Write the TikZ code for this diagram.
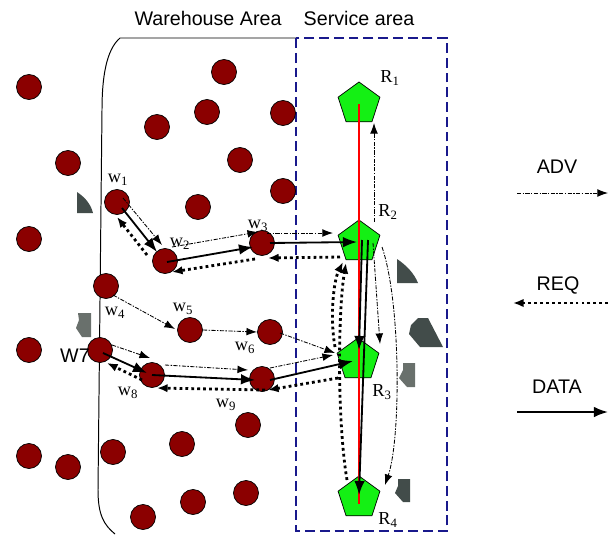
\documentclass[tikz,border=0pt]{standalone}
\usepackage{fontspec}
\setmainfont{Liberation Serif}
\setsansfont{Liberation Sans}
\usetikzlibrary{shapes.geometric,arrows.meta}
\definecolor{nodered}{RGB}{139,0,0}
\definecolor{relaygreen}{RGB}{20,240,20}
\definecolor{areablue}{RGB}{25,25,140}
\definecolor{rockgrey}{RGB}{66,76,74}
\definecolor{rocklight}{RGB}{105,112,108}
\tikzset{
	sensor/.style={circle,draw=black,line width=0.5pt,fill=nodered,minimum size=0.625cm,inner sep=0pt},
	relay/.style={regular polygon,regular polygon sides=5,draw=black,line width=0.5pt,fill=relaygreen,minimum size=1.1cm,inner sep=0pt},
	adv/.style={-{Latex[length=7.5pt,width=5.5pt]},line width=0.6pt,dash pattern=on 3pt off 1pt on 1pt off 1pt},
	req/.style={-{Latex[length=7.5pt,width=6pt]},line width=2pt,dash pattern=on 2pt off 2.2pt},
	data/.style={-{Latex[length=10pt,width=7.5pt]},line width=1.3pt},
	wlab/.style={font=\rmfamily\fontsize{13}{13}\selectfont,inner sep=0pt},
	head/.style={font=\sffamily\fontsize{14}{14}\selectfont,inner sep=0pt},
}
\begin{document}
\begin{tikzpicture}[x=0.025cm,y=-0.025cm]
	%%%%% START %%%%%
	\useasboundingbox (0,0) rectangle (612,534);
	\def\xl{296}
	\def\xr{447}
	\def\ytop{38}
	\def\ybot{531}
	
	\node[head] (whtitle) at (208,18) {Warehouse Area};
	\node[head] (sctitle) at (359,18) {Service area};
	
	% warehouse boundary
	\draw[line width=0.7pt] (\xl,\ytop) -- (120,\ytop) .. controls (106,50) and (102,78) .. (102,110) -- (98,490) .. controls (98,515) and (104,525) .. (115,534);
	% service area
	\draw[areablue,line width=1.4pt,dash pattern=on 7pt off 3.5pt] (\xl,\ytop) rectangle (\xr,\ybot);
	
	% obstacles
	\fill[rockgrey] (77,192) .. controls (86,198) and (91,205) .. (93,213) -- (77,213) -- cycle;
	\fill[rocklight] (78,313) -- (91,313) -- (91,337) -- (82,337) -- (76,328) -- (79,320) -- cycle;
	\fill[rockgrey] (397,259) .. controls (406,265) and (414,273) .. (418,283) -- (397,283) -- cycle;
	\fill[rockgrey] (418,318) -- (428,318) -- (443,347) -- (420,347) -- (409,334) -- (411,325) -- cycle;
	\fill[rocklight] (403,363) -- (415,363) -- (415,387) -- (407,387) -- (399,378) -- (403,370) -- cycle;
	\fill[rockgrey] (398,479) -- (410,479) -- (410,502) -- (403,502) -- (395,493) -- (398,486) -- cycle;
	
	% other sensors
	\foreach \x/\y [count=\i] in {29/87,224/72,207/112,283/113,157/127,68/163,240/160,283/191,198/207,29/239,29/350,248/425,182/444,113/452,29/456,68/467,246/493,193/502,143/517}
		\node[sensor] (c\i) at (\x,\y) {};
	
	% path sensors
	\node[sensor] (w1) at (117,202) {};
	\node[sensor] (w2) at (165,261) {};
	\node[sensor] (w3) at (262,243) {};
	\node[sensor] (w4) at (106,286) {};
	\node[sensor] (w5) at (190,330) {};
	\node[sensor] (w6) at (270,332) {};
	\node[sensor] (w7) at (100,350) {};
	\node[sensor] (w8) at (152,375) {};
	\node[sensor] (w9) at (262,379) {};
	
	% relays
	\node[relay] (R1) at (359,104) {};
	\node[relay] (R2) at (359,242) {};
	\node[relay] (R3) at (358,360) {};
	\node[relay] (R4) at (359,498) {};
	\draw[red,line width=1.2pt] (R1.center) -- ([yshift=-4]R4.center);
	
	% w1 - w2 - w3 - R2
	\draw[adv] ([shift={(6,-4)}]w1.center) -- ([shift={(-3,-16)}]w2.center);
	\draw[data] ([shift={(5,6)}]w1.center) -- ([shift={(-8,-9)}]w2.center);
	\draw[req] ([shift={(-18,-6)}]w2.center) -- ([shift={(0,15)}]w1.center);
	\draw[adv] ([shift={(7,-14)}]w2.center) -- ([shift={(-4,-11)}]w3.center);
	\draw[data] ([shift={(2,1)}]w2.center) -- ([shift={(-9,4)}]w3.center);
	\draw[req] ([shift={(-7,16)}]w3.center) -- ([shift={(7,11)}]w2.center);
	\draw[adv] ([shift={(5,-10)}]w3.center) -- ([shift={(-26,-9)}]R2.center);
	\draw[data] ([shift={(8,0)}]w3.center) -- ([shift={(-2,0)}]R2.center);
	\draw[req] ([shift={(-19,15)}]R2.center) -- ([shift={(6,15)}]w3.center);
	
	% w4 - w5 - w6 - R3
	\draw[adv] ([shift={(7,9)}]w4.center) -- ([shift={(-15,-1)}]w5.center);
	\draw[adv] ([shift={(13,0)}]w5.center) -- ([shift={(-13,0)}]w6.center);
	\draw[adv] ([shift={(10,1)}]w6.center) -- ([shift={(-23,-7)}]R3.center);
	
	% w7 - w8 - w9 - R3
	\draw[adv] ([shift={(12,-5)}]w7.center) -- ([shift={(-2,-17)}]w8.center);
	\draw[data] ([shift={(3,3)}]w7.center) -- ([shift={(-5,-2)}]w8.center);
	\draw[req] ([shift={(-10,5)}]w8.center) -- ([shift={(7,13)}]w7.center);
	\draw[adv] ([shift={(13,-10)}]w8.center) -- ([shift={(-14,-9)}]w9.center);
	\draw[data] (w8.center) -- ([shift={(-7,1)}]w9.center);
	\draw[req] ([shift={(3,11)}]w9.center) -- ([shift={(5,13)}]w8.center);
	\draw[adv] ([shift={(8,-11)}]w9.center) -- ([shift={(-25,-5)}]R3.center);
	\draw[data] ([shift={(8,1)}]w9.center) -- ([shift={(-5,1)}]R3.center);
	\draw[req] ([shift={(-20,18)}]R3.center) -- ([shift={(6,11)}]w9.center);
	
	% relay chain
	\draw[adv] ([shift={(15,-20)}]R2.center) -- ([shift={(15,19)}]R1.center);
	\draw[adv] ([shift={(14,1)}]R2.center) -- ([shift={(22,-16)}]R3.center);
	\draw[adv] ([shift={(23,5)}]R2.center) .. controls ([shift={(42,60)}]R2.center) and ([shift={(42,-60)}]R4.center) .. ([shift={(26,-13)}]R4.center);
	\draw[data] ([shift={(3,-2)}]R2.center) -- ([shift={(1,-10)}]R3.center);
	\draw[data] ([shift={(9,-2)}]R2.center) -- ([shift={(0,-3)}]R4.center);
	\draw[req] ([shift={(-23,-13)}]R3.center) .. controls ([shift={(-28,-40)}]R3.center) and ([shift={(-26,40)}]R2.center) .. ([shift={(-16,20)}]R2.center);
	\draw[req] ([shift={(-12,-18)}]R4.center) .. controls ([shift={(-22,-78)}]R4.center) and ([shift={(-21,68)}]R2.center) .. ([shift={(-13,21)}]R2.center);
	
	% labels
	\node[wlab] (lw1) at (118,180) {w\textsubscript{1}};
	\node[wlab] (lw2) at (180,244) {w\textsubscript{2}};
	\node[wlab] (lw3) at (258,226) {w\textsubscript{3}};
	\node[wlab] (lw4) at (115,313) {w\textsubscript{4}};
	\node[wlab] (lw5) at (183,309) {w\textsubscript{5}};
	\node[wlab] (lw6) at (245,348) {w\textsubscript{6}};
	\node[head] (lw7) at (75,356) {W7};
	\node[wlab] (lw8) at (128,393) {w\textsubscript{8}};
	\node[wlab] (lw9) at (226,405) {w\textsubscript{9}};
	\node[wlab] (lR1) at (390,78) {R\textsubscript{1}};
	\node[wlab] (lR2) at (388,212) {R\textsubscript{2}};
	\node[wlab] (lR3) at (382,392) {R\textsubscript{3}};
	\node[wlab] (lR4) at (388,520) {R\textsubscript{4}};
	
	% legend
	\node[head] (advlab) at (557,167) {ADV};
	\coordinate (advL) at (517,193);
	\coordinate (advR) at (608,193);
	\draw[adv] (advL) -- (advR);
	\node[head] (reqlab) at (558,285) {REQ};
	\coordinate (reqL) at (513,303);
	\coordinate (reqR) at (608,303);
	\draw[req] (reqR) -- (reqL);
	\node[head] (datalab) at (557,387) {DATA};
	\coordinate (dataL) at (517,412);
	\coordinate (dataR) at (608,412);
	\draw[data] (dataL) -- (dataR);
	%%%%% END %%%%%
\end{tikzpicture}
\end{document}
